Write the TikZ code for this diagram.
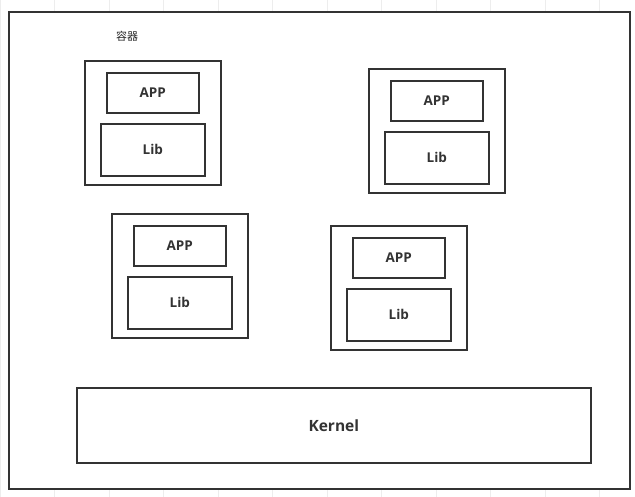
\documentclass[tikz,border=0pt]{standalone}
\usepackage{fontspec}
\setmainfont{Open Sans}
\newfontfamily\cjk{Noto Sans CJK SC}
\usetikzlibrary{positioning}

\tikzset{
  box/.style={draw=black!80, line width=1.6pt, fill=white, inner sep=0pt, anchor=north west},
  ctbox/.style={box, minimum width=136, minimum height=124},
  appbox/.style={box, minimum width=92, minimum height=40, font=\bfseries\fontsize{13.5}{15}\selectfont, text=black!80},
  libbox/.style={box, minimum width=104, minimum height=52, font=\bfseries\fontsize{13.5}{15}\selectfont, text=black!80}
}

\begin{document}
\begin{tikzpicture}[x=1pt, y=-1pt]
    \useasboundingbox (0,0) rectangle (635,497);
    % faint background grid
    \draw[black!7, step=54.5] (0,0) grid (635,497);

    % Outer frame
    \node[box, line width=2pt, minimum width=621, minimum height=477] (frame) at (8,11) {};

    % Label
    \node[font=\cjk\fontsize{11}{13}\selectfont, text=black!85] (label) at (127,36) {容器};

    % Containers with APP and Lib
    \foreach \n/\x/\y in {a/84/60, b/368/68, c/111/213, d/330/225} {
        \node[ctbox] (ct\n) at (\x,\y) {};
        \node[appbox] (app\n) at ([xshift=22, yshift=-12]ct\n.north west) {APP};
        \node[libbox] (lib\n) at ([xshift=16, yshift=-63]ct\n.north west) {Lib};
    }

    % Kernel
    \node[box, minimum width=514, minimum height=75, font=\bfseries\fontsize{15.5}{17}\selectfont, text=black!80] (kernel) at (76,387) {Kernel};
\end{tikzpicture}
\end{document}
